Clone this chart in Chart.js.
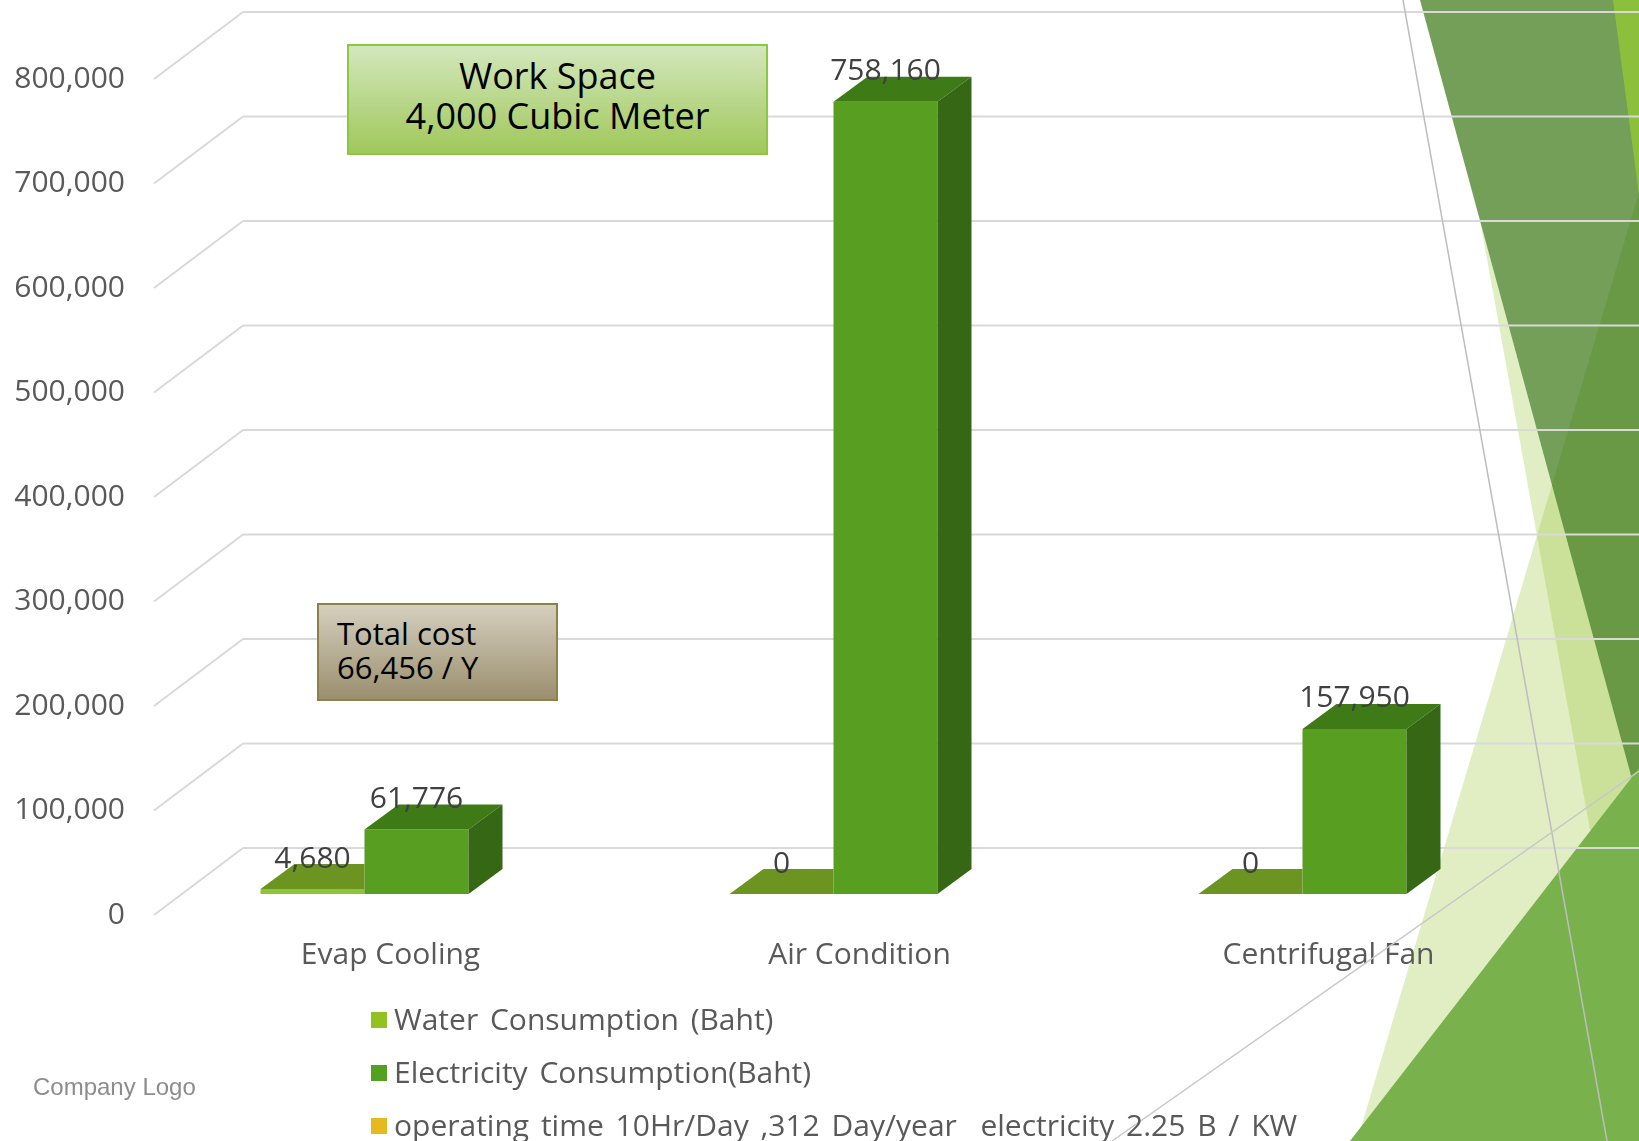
<!DOCTYPE html>
<html>
<head>
<meta charset="utf-8">
<script src="https://cdn.jsdelivr.net/npm/chart.js@4/dist/chart.umd.min.js"></script>
<style>
html,body{margin:0;padding:0;background:#fff;overflow:hidden}
#wrap{position:relative;width:1639px;height:1141px;overflow:hidden}
#c{position:absolute;left:0;top:0}
.box{position:absolute;box-sizing:border-box;font-family:"Open Sans","DejaVu Sans",sans-serif;color:#000}
#work{left:347px;top:44px;width:421px;height:111px;border:2px solid #8dc63f;
  background:linear-gradient(#d3e7bd,#a0c85a);text-align:center;font-size:36px;line-height:40px;padding-top:10px}
#cost{left:317px;top:603px;width:241px;height:98px;border:2px solid #8e8049;
  background:linear-gradient(#d5cfbe,#9a8f6e);text-align:left;font-size:31px;line-height:34px;padding:11px 0 0 18px}
.leg{position:absolute;left:371px;height:36px;font-family:"Open Sans","DejaVu Sans",sans-serif;font-size:30px;line-height:36px;color:#595959;white-space:pre;word-spacing:4px}
.leg span.sw{display:inline-block;width:16px;height:16px;margin-right:7px;vertical-align:middle;position:relative;top:-2px}
#logo{position:absolute;left:33px;top:1072px;font-family:"Liberation Sans",Arial,sans-serif;font-size:24px;line-height:30px;color:#8c8c8c}
</style>
</head>
<body>
<div id="wrap">
<canvas id="c" width="1639" height="1141"></canvas>
<div id="work" class="box"></div>
<div id="cost" class="box"></div>
<div id="legend"></div>
<div id="logo">Company Logo</div>
</div>
<script>
// ---------- data ----------
const categories = ["Evap Cooling", "Air Condition", "Centrifugal Fan"];
const waterValues = [4680, 0, 0];
const electricityValues = [61776, 758160, 157950];
const seriesNames = ["Water Consumption (Baht)", "Electricity Consumption(Baht)", "operating time 10Hr/Day ,312 Day/year  electricity 2.25 B / KW"];
const legendColors = ["#92c220", "#54a021", "#e6b91e"];
const yTickValues = [0, 100000, 200000, 300000, 400000, 500000, 600000, 700000, 800000];
const workSpaceText = ["Work Space", "4,000 Cubic Meter"];
const totalCostText = ["Total cost", "66,456 / Y"];

// ---------- styles ----------
const FONT = '"Open Sans", "DejaVu Sans", sans-serif';
const barStyles = [
  {front: "#8cc43a", top: "#6b9421", side: "#4f7a18"},
  {front: "#579e21", top: "#3e7b17", side: "#356714"}
];
const DEPTH = {dx: 34, dy: -25};
const FRONT_X = 154, BACK_X = 243, FRONT_DY = 21, BACK_DY = -46;

// overlays
document.getElementById("work").innerHTML = workSpaceText.join("<br>");
document.getElementById("cost").innerHTML = totalCostText.join("<br>");
const legendEl = document.getElementById("legend");
const legendCenters = [1019, 1072, 1125];
seriesNames.forEach((n, i) => {
  const d = document.createElement("div");
  d.className = "leg";
  d.style.top = (legendCenters[i] - 18) + "px";
  const s = document.createElement("span");
  s.className = "sw"; s.style.background = legendColors[i];
  d.appendChild(s);
  d.appendChild(document.createTextNode(n));
  legendEl.appendChild(d);
});

function poly(ctx, pts, fill) {
  ctx.beginPath();
  ctx.moveTo(pts[0][0], pts[0][1]);
  for (let i = 1; i < pts.length; i++) ctx.lineTo(pts[i][0], pts[i][1]);
  ctx.closePath();
  ctx.fillStyle = fill;
  ctx.fill();
}
function seg(ctx, a, b, color, w) {
  ctx.beginPath(); ctx.moveTo(a[0], a[1]); ctx.lineTo(b[0], b[1]);
  ctx.strokeStyle = color; ctx.lineWidth = w; ctx.stroke();
}

const threeD = {
  id: "threeD",
  beforeDraw(chart) {
    const ctx = chart.ctx;
    ctx.save();
    ctx.fillStyle = "#fff";
    ctx.fillRect(0, 0, chart.width, chart.height);
    // decorative theme facets (background)
    poly(ctx, [[1639,192],[1357,1141],[1639,1141]], "rgba(144,194,38,0.27)");
    poly(ctx, [[1480,220],[1590,830],[1639,830],[1639,805]], "rgba(144,194,38,0.27)");
    poly(ctx, [[1420,0],[1639,0],[1639,805]], "rgba(40,107,0,0.65)");
    poly(ctx, [[1613,0],[1639,0],[1639,195]], "#8cbf3b");
    poly(ctx, [[1350,1141],[1639,768],[1639,1141]], "#79b24c");
    ctx.restore();
  },
  beforeDatasetsDraw(chart) {
    const ctx = chart.ctx, ys = chart.scales.y;
    ctx.save();
    ys.ticks.forEach(t => {
      const y = ys.getPixelForValue(t.value);
      seg(ctx, [FRONT_X, y + FRONT_DY], [BACK_X, y + BACK_DY], "#d9d9d9", 2);
      seg(ctx, [BACK_X, y + BACK_DY], [chart.width, y + BACK_DY], "#d9d9d9", 2);
    });
    seg(ctx, [1403,0], [1607,1141], "#bdbdbd", 1.5);
    seg(ctx, [1112,1141], [1639,771], "#c8c8c8", 1.5);
    ctx.restore();
  },
  afterDatasetDraw(chart, args) {
    const ctx = chart.ctx, meta = args.meta, st = barStyles[args.index];
    meta.data.forEach(el => {
      const p = el.getProps(["x", "y", "base", "width"], true);
      const l = p.x - p.width / 2, r = p.x + p.width / 2, t = Math.min(p.y, p.base), b = Math.max(p.y, p.base);
      ctx.save();
      if (args.index === 0) {            // water bar sits behind-left of the electricity bar
        ctx.beginPath(); ctx.rect(0, 0, r, chart.height); ctx.clip();
      }
      poly(ctx, [[l,t],[l+DEPTH.dx,t+DEPTH.dy],[r+DEPTH.dx,t+DEPTH.dy],[r,t]], st.top);
      poly(ctx, [[r,t],[r+DEPTH.dx,t+DEPTH.dy],[r+DEPTH.dx,b+DEPTH.dy],[r,b]], st.side);
      ctx.restore();
    });
  },
  afterDatasetsDraw(chart) {
    const ctx = chart.ctx;
    ctx.save();
    ctx.font = "30px " + FONT;
    ctx.fillStyle = "#404040";
    ctx.textAlign = "center";
    ctx.textBaseline = "middle";
    chart.data.datasets.forEach((ds, i) => {
      const meta = chart.getDatasetMeta(i);
      meta.data.forEach((el, j) => {
        const p = el.getProps(["x", "y"], true);
        ctx.fillText(ds.data[j].toLocaleString("en-US"), p.x, p.y - 30);
      });
    });
    ctx.restore();
  }
};

new Chart(document.getElementById("c"), {
  type: "bar",
  data: {
    labels: categories,
    datasets: [
      {label: seriesNames[0], data: waterValues, backgroundColor: barStyles[0].front,
       categoryPercentage: 0.4435, barPercentage: 1, borderWidth: 0},
      {label: seriesNames[1], data: electricityValues, backgroundColor: barStyles[1].front,
       categoryPercentage: 0.4435, barPercentage: 1, borderWidth: 0}
    ]
  },
  options: {
    responsive: false,
    animation: false,
    devicePixelRatio: 1,
    layout: {padding: {top: 58, left: 0, right: 102, bottom: 0}},
    plugins: {legend: {display: false}, tooltip: {enabled: false}},
    scales: {
      x: {
        grid: {display: false, drawTicks: false},
        border: {display: false},
        ticks: {color: "#595959", font: {family: FONT, size: 30}, padding: 43, labelOffset: 26, maxRotation: 0},
        afterFit(s) { s.height = 247; }
      },
      y: {
        min: 0, max: 800000,
        grid: {display: false, drawTicks: false},
        border: {display: false},
        afterBuildTicks(s) { s.ticks = yTickValues.map(v => ({value: v})); },
        ticks: {color: "#595959", font: {family: FONT, size: 30}, padding: 5, labelOffset: FRONT_DY,
                callback: v => Number(v).toLocaleString("en-US")},
        afterFit(s) { s.width = 130; }
      }
    }
  },
  plugins: [threeD]
});
</script>
</body>
</html>
